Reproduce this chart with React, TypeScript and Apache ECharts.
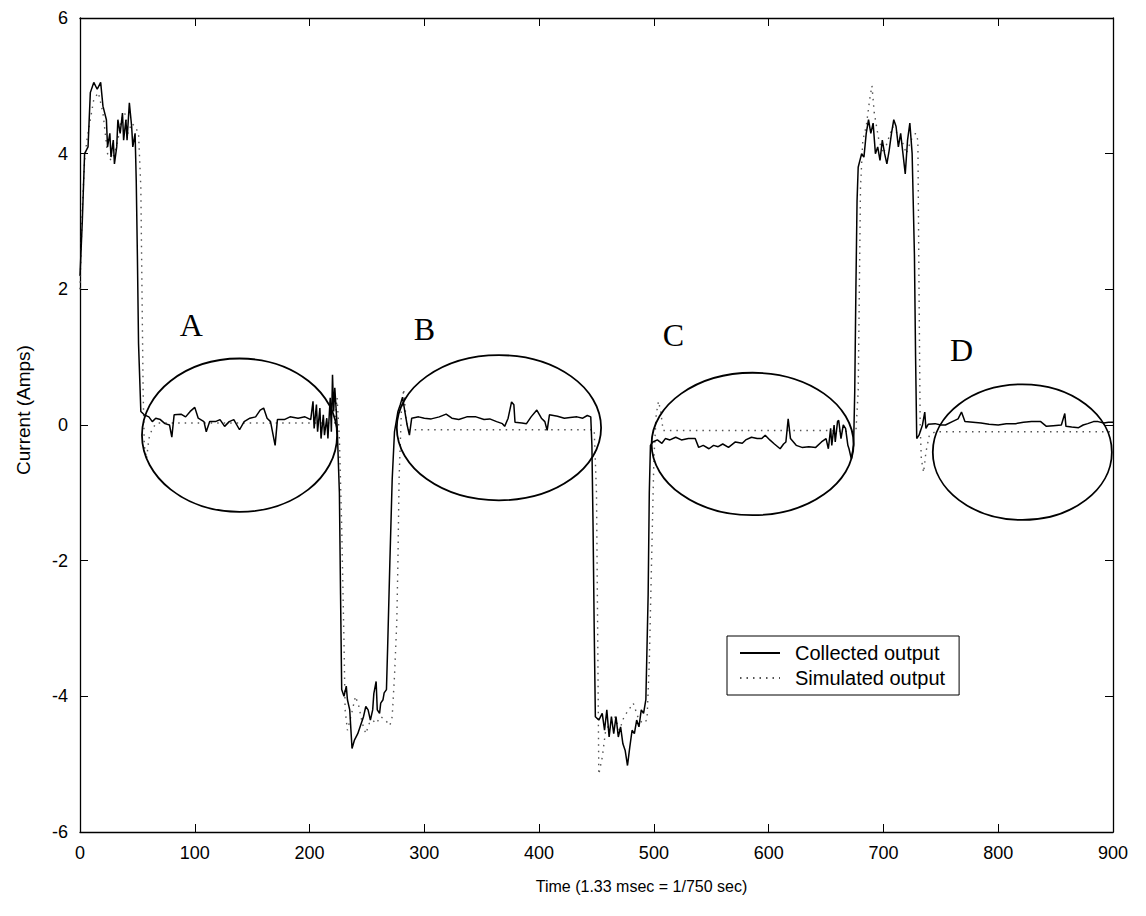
import React, { useEffect, useRef } from "react";
import * as echarts from "echarts";

// Measured motor current (solid) and model output (dotted), sample index vs amps
const collectedTime = [
  0, 2, 4, 7, 9, 12, 15, 18, 20, 23, 24, 26, 27, 29, 30, 32, 33, 35, 37, 38, 40, 41, 43, 45, 46, 48, 49, 50, 51, 53,
  56, 60, 63, 66, 70, 74, 78, 80, 82, 88, 92, 96, 100, 103, 108, 110, 113, 118, 122, 126, 130, 134, 139, 143, 148,
  153, 157, 160, 163, 166, 170, 172, 178, 183, 190, 196, 201, 203, 204, 206, 207, 209, 210, 212, 213, 215, 216, 218,
  219, 220, 221, 222, 224, 226, 227, 228, 230, 232, 233, 235, 237, 239, 242, 245, 247, 249, 251, 253, 255, 256, 258,
  259, 261, 262, 264, 265, 267, 268, 270, 272, 274, 277, 279, 281, 283, 285, 287, 289, 295, 300, 306, 313, 319, 324,
  330, 337, 345, 352, 357, 363, 368, 370, 373, 376, 378, 379, 385, 389, 393, 398, 402, 405, 407, 409, 416, 422, 427,
  433, 438, 442, 445, 446, 447, 448, 449, 452, 455, 457, 459, 461, 463, 465, 467, 469, 471, 473, 475, 477, 479, 481,
  483, 485, 487, 489, 491, 493, 495, 496, 497, 499, 503, 507, 510, 514, 519, 524, 530, 536, 539, 543, 548, 552, 556,
  560, 565, 571, 577, 580, 585, 590, 594, 597, 601, 605, 610, 613, 615, 617, 619, 624, 629, 635, 641, 646, 650, 652,
  654, 655, 657, 658, 660, 661, 663, 665, 667, 669, 670, 672, 674, 675, 676, 677, 678, 681, 683, 685, 687, 689, 691,
  693, 695, 697, 699, 701, 703, 705, 707, 709, 711, 713, 715, 717, 719, 721, 723, 725, 727, 728, 729, 731, 734, 736,
  737, 739, 745, 750, 754, 760, 765, 768, 771, 778, 785, 792, 800, 807, 815, 822, 829, 837, 842, 848, 855, 858, 859,
  864, 870, 874, 878, 883, 887, 892, 896, 900,
];
const collectedCurrent = [
  2.2, 3.0, 4.0, 4.1, 4.9, 5.05, 4.95, 5.05, 4.7, 4.5, 4.1, 4.3, 3.95, 4.2, 3.85, 4.1, 4.5, 4.3, 4.6, 4.2, 4.5, 4.2,
  4.75, 4.4, 4.1, 4.3, 3.6, 2.5, 1.2, 0.2, 0.15, 0.12, 0.05, 0.1, 0.08, 0.02, 0.0, -0.18, 0.15, 0.16, 0.12, 0.2, 0.26,
  0.1, 0.05, -0.1, 0.05, 0.05, 0.08, -0.02, 0.05, 0.08, -0.07, 0.05, 0.1, 0.12, 0.22, 0.25, 0.1, 0.05, -0.3, 0.08,
  0.08, 0.12, 0.1, 0.12, 0.08, 0.35, -0.05, 0.3, -0.1, 0.25, -0.2, 0.15, -0.15, 0.1, -0.2, 0.4, -0.1, 0.74, 0.2, 0.55,
  0.0, -1.0, -2.5, -3.9, -4.0, -3.85, -4.05, -4.2, -4.77, -4.65, -4.55, -4.4, -4.3, -4.15, -4.2, -4.35, -4.2, -3.96,
  -3.78, -4.2, -4.25, -4.1, -4.05, -3.95, -3.9, -3.3, -2.0, -0.8, -0.1, 0.2, 0.3, 0.41, 0.2, 0.0, -0.15, 0.1, 0.12,
  0.1, 0.09, 0.12, 0.16, 0.1, 0.08, 0.12, 0.12, 0.08, 0.09, 0.05, 0.02, -0.02, 0.1, 0.34, 0.3, 0.04, 0.03, 0.02, 0.12,
  0.22, 0.1, 0.05, -0.08, 0.15, 0.13, 0.1, 0.11, 0.12, 0.1, 0.14, 0.12, -0.3, -1.5, -3.0, -4.3, -4.35, -4.25, -4.5,
  -4.2, -4.6, -4.3, -4.55, -4.3, -4.6, -4.45, -4.7, -4.8, -5.02, -4.75, -4.5, -4.55, -4.35, -4.45, -4.2, -4.25, -4.05,
  -2.5, -1.0, -0.3, -0.25, -0.22, -0.27, -0.2, -0.22, -0.18, -0.22, -0.2, -0.2, -0.33, -0.3, -0.35, -0.3, -0.32,
  -0.28, -0.33, -0.25, -0.27, -0.22, -0.18, -0.2, -0.2, -0.15, -0.22, -0.28, -0.35, -0.28, -0.25, 0.09, -0.2, -0.3,
  -0.33, -0.32, -0.33, -0.25, -0.2, -0.35, -0.05, -0.3, 0.0, -0.25, 0.05, 0.07, -0.2, 0.0, -0.05, -0.3, -0.35, -0.5,
  -0.3, 0.5, 2.0, 3.3, 3.8, 4.0, 3.95, 4.3, 4.5, 4.3, 4.45, 4.0, 4.1, 3.9, 4.2, 4.0, 3.85, 4.05, 4.3, 4.5, 4.4, 4.1,
  4.3, 4.0, 3.7, 4.2, 4.45, 4.0, 2.5, 1.0, -0.2, -0.15, 0.0, 0.19, -0.05, 0.01, 0.02, 0.0, 0.0, 0.05, 0.09, 0.19, 0.05,
  0.04, 0.03, 0.01, 0.0, 0.02, 0.02, 0.04, 0.05, 0.05, -0.02, -0.01, 0.0, 0.17, -0.02, -0.03, -0.04, 0.0, 0.02, 0.05,
  0.05, 0.03, 0.04, 0.04,
];

const simulatedTime = [
  0, 2, 4, 6, 9, 12, 16, 20, 24, 27, 30, 33, 36, 39, 42, 45, 48, 51, 53, 54, 55, 56, 58, 60, 63, 67, 90, 120, 150,
  180, 210, 222, 224, 226, 228, 230, 231, 233, 236, 240, 243, 246, 249, 252, 255, 258, 262, 266, 270, 272, 274, 276,
  277, 278, 280, 282, 284, 286, 320, 360, 400, 448, 450, 451, 452, 455, 458, 462, 466, 470, 474, 478, 482, 486, 490,
  494, 496, 498, 500, 502, 504, 506, 508, 550, 600, 650, 676, 678, 679, 680, 682, 685, 688, 690, 692, 696, 700, 704,
  708, 712, 716, 720, 724, 728, 730, 731, 732, 733, 735, 737, 740, 745, 800, 850, 900,
];
const simulatedCurrent = [
  2.0, 3.2, 3.9, 4.2, 4.5, 4.8, 4.9, 4.6, 4.0, 3.9, 4.0, 4.2, 4.5, 4.6, 4.3, 4.45, 4.4, 4.3, 3.5, 2.0, 0.5, -0.3,
  -0.5, -0.2, -0.05, 0.03, 0.03, 0.03, 0.03, 0.03, 0.03, 0.03, 0.4, -0.2, -1.5, -3.2, -4.2, -4.5, -4.3, -4.0, -4.15,
  -4.4, -4.55, -4.4, -4.35, -4.4, -4.3, -4.35, -4.43, -4.3, -3.7, -2.9, -2.0, -0.8, 0.2, 0.53, 0.1, -0.07, -0.07,
  -0.07, -0.07, -0.07, -1.0, -3.0, -5.15, -4.9, -4.5, -4.4, -4.3, -4.5, -4.3, -4.2, -4.1, -4.3, -4.4, -4.35, -3.5,
  -2.0, -0.5, 0.15, 0.35, 0.2, -0.08, -0.08, -0.08, -0.08, -0.1, 0.5, 2.0, 3.5, 4.2, 4.4, 4.8, 5.0, 4.6, 4.2, 4.0,
  4.2, 4.4, 4.3, 4.2, 4.0, 4.2, 4.3, 4.2, 2.0, 0.0, -0.5, -0.7, -0.4, -0.15, -0.1, -0.1, -0.1, -0.1,
];

// Circled steady-state regions, in axis units
const regionNames = ["A", "B", "C", "D"];
const regionLabelX = [97, 300, 517, 768];
const regionLabelY = [1.48, 1.42, 1.33, 1.11];
const ellipseCenterX = [139, 365, 586, 821];
const ellipseCenterY = [-0.15, -0.04, -0.28, -0.4];
const ellipseRadiusX = [85, 89, 88, 78];
const ellipseRadiusY = [1.13, 1.07, 1.05, 1.0];

const xTicks = { min: 0, max: 900, interval: 100 };
const yTicks = { min: -6, max: 6, interval: 2 };

const SANS = "'Liberation Sans', Arial, sans-serif";
const SERIF = "'Liberation Serif', 'Times New Roman', serif";

export default function App() {
  const ref = useRef<HTMLDivElement>(null);

  useEffect(() => {
    if (!ref.current) return;
    const chart = echarts.init(ref.current, null, { renderer: "svg" });

    const collected = collectedTime.map((t, i) => [t, collectedCurrent[i]]);
    const simulated = simulatedTime.map((t, i) => [t, simulatedCurrent[i]]);

    const axisLine = { show: true, onZero: false, lineStyle: { color: "#000", width: 1.3 } };
    const tickInside = { show: true, inside: true, length: 8, lineStyle: { color: "#000", width: 1 } };
    const labelStyle = { color: "#000", fontFamily: SANS, fontSize: 18 };
    const hiddenSymbol = { color: "rgba(0,0,0,0)", borderWidth: 0, opacity: 0 };

    chart.setOption({
      animation: false,
      backgroundColor: "#fff",
      grid: { left: 80, right: 33, top: 18, bottom: 84, containLabel: false },
      legend: {
        show: true,
        left: 727,
        top: 636,
        orient: "vertical",
        backgroundColor: "#fff",
        borderColor: "#000",
        borderWidth: 1,
        borderRadius: 0,
        padding: [7, 14, 7, 12],
        itemWidth: 40,
        itemHeight: 14,
        itemGap: 5,
        itemStyle: hiddenSymbol,
        textStyle: { color: "#000", fontFamily: SANS, fontSize: 20, padding: [0, 0, 0, 10] },
        data: [
          { name: "Collected output", itemStyle: hiddenSymbol },
          { name: "Simulated output", itemStyle: hiddenSymbol },
        ],
      },
      xAxis: [
        {
          type: "value",
          position: "bottom",
          ...xTicks,
          axisLine,
          axisTick: tickInside,
          axisLabel: { ...labelStyle, margin: 12 },
          splitLine: { show: false },
          name: "Time (1.33 msec = 1/750 sec)",
          nameLocation: "middle",
          nameGap: 46,
          nameTextStyle: { color: "#000", fontFamily: SANS, fontSize: 16, padding: [0, 0, 0, 90] },
        },
        {
          type: "value",
          position: "top",
          ...xTicks,
          axisLine,
          axisTick: tickInside,
          axisLabel: { show: false },
          splitLine: { show: false },
        },
      ],
      yAxis: [
        {
          type: "value",
          position: "left",
          ...yTicks,
          axisLine,
          axisTick: tickInside,
          axisLabel: { ...labelStyle, margin: 12 },
          splitLine: { show: false },
          name: "Current (Amps)",
          nameLocation: "middle",
          nameGap: 47,
          nameTextStyle: { color: "#000", fontFamily: SANS, fontSize: 19, padding: [0, 0, 0, 30] },
        },
        {
          type: "value",
          position: "right",
          ...yTicks,
          axisLine,
          axisTick: tickInside,
          axisLabel: { show: false },
          splitLine: { show: false },
        },
      ],
      series: [
        {
          name: "Collected output",
          type: "line",
          xAxisIndex: 0,
          yAxisIndex: 0,
          data: collected,
          showSymbol: false,
          symbol: "none",
          lineStyle: { color: "#000", width: 1.5 },
          itemStyle: { color: "#000" },
          z: 3,
        },
        {
          name: "Simulated output",
          type: "line",
          xAxisIndex: 0,
          yAxisIndex: 0,
          data: simulated,
          showSymbol: false,
          symbol: "none",
          lineStyle: { color: "#555", width: 1.4, type: [1.5, 5] },
          itemStyle: { color: "#555" },
          z: 2,
        },
      ],
    });

    // Ellipses and region letters placed through the axis scales
    const toPx = (x: number, y: number) =>
      chart.convertToPixel({ xAxisIndex: 0, yAxisIndex: 0 }, [x, y]) as number[];
    const graphics: any[] = [];
    regionNames.forEach((name, i) => {
      const c = toPx(ellipseCenterX[i], ellipseCenterY[i]);
      const ex = toPx(ellipseCenterX[i] + ellipseRadiusX[i], ellipseCenterY[i]);
      const ey = toPx(ellipseCenterX[i], ellipseCenterY[i] + ellipseRadiusY[i]);
      graphics.push({
        type: "ellipse",
        shape: { cx: c[0], cy: c[1], rx: Math.abs(ex[0] - c[0]), ry: Math.abs(ey[1] - c[1]) },
        style: { fill: "none", stroke: "#000", lineWidth: 1.8 },
        z: 10,
      });
      const p = toPx(regionLabelX[i], regionLabelY[i]);
      graphics.push({
        type: "text",
        x: p[0],
        y: p[1],
        style: {
          text: name,
          fill: "#000",
          font: `32px ${SERIF}`,
          textAlign: "center",
          textVerticalAlign: "middle",
        },
        z: 10,
      });
    });
    chart.setOption({ graphic: graphics });

    return () => chart.dispose();
  }, []);

  return (
    <div
      ref={ref}
      style={{ position: "fixed", left: 0, top: 0, width: 1146, height: 916, background: "#fff" }}
    />
  );
}
